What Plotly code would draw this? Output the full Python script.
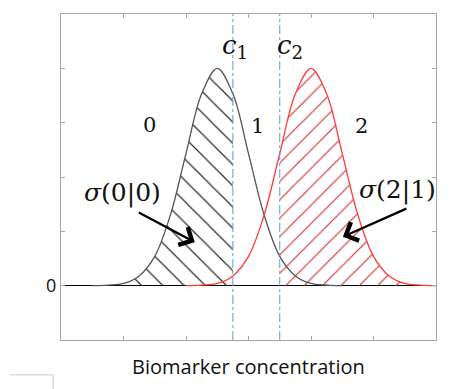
import plotly.graph_objects as go

# Class-0 density curve (grey), sampled along the biomarker axis
x_class0 = [0.5, 0.75, 1.0, 1.25, 1.5, 1.75, 2.0, 2.25, 2.5, 2.75, 3.0, 3.25, 3.5, 3.75, 4.0, 4.25, 4.5]
y_class0 = [0.0, 0.01, 0.04, 0.18, 0.54, 1.30, 2.43, 3.53, 4.0, 3.53, 2.43, 1.30, 0.54, 0.18, 0.04, 0.01, 0.0]

# Class-2 density curve (red)
x_class2 = [2.0, 2.25, 2.5, 2.75, 3.0, 3.25, 3.5, 3.75, 4.0, 4.25, 4.5, 4.75, 5.0, 5.25, 5.5, 5.75, 6.0]
y_class2 = [0.0, 0.01, 0.04, 0.18, 0.54, 1.30, 2.43, 3.53, 4.0, 3.53, 2.43, 1.30, 0.54, 0.18, 0.04, 0.01, 0.0]

# Decision thresholds
c1 = 2.75
c2 = 3.5

region_labels = ["0", "1", "2"]
region_x = [1.42, 3.14, 4.80]
region_y = [2.95, 2.94, 2.94]

x_tickvals = [1, 2, 3, 4, 5]
y_tickvals = [0, 1, 2, 3, 4]
y_ticktext = ["0", "", "", "", ""]

GREY = "#555555"
RED = "#ff3b3b"
BLUE = "#5b9bd5"
FRAME = "#a6a6a6"

fig = go.Figure()

# Hatched area under class-0 curve left of c1
fx0 = [x for x in x_class0 if x <= c1]
fy0 = [y for x, y in zip(x_class0, y_class0) if x <= c1]
fig.add_trace(go.Scatter(
    x=fx0, y=fy0, mode="lines", line=dict(width=0, shape="spline"),
    fill="tozeroy", fillcolor="rgba(0,0,0,0)",
    fillpattern=dict(shape="\\", fgcolor="#2a2a2a", fgopacity=1,
                     bgcolor="rgba(0,0,0,0)", size=15, solidity=0.08,
                     fillmode="overlay"),
    hoverinfo="skip", showlegend=False))

# Hatched area under class-2 curve right of c2
fx2 = [x for x in x_class2 if x >= c2]
fy2 = [y for x, y in zip(x_class2, y_class2) if x >= c2]
fig.add_trace(go.Scatter(
    x=fx2, y=fy2, mode="lines", line=dict(width=0, shape="spline"),
    fill="tozeroy", fillcolor="rgba(0,0,0,0)",
    fillpattern=dict(shape="/", fgcolor="#d43030", fgopacity=1,
                     bgcolor="rgba(0,0,0,0)", size=13, solidity=0.09,
                     fillmode="overlay"),
    hoverinfo="skip", showlegend=False))

fig.add_trace(go.Scatter(x=x_class0, y=y_class0, mode="lines",
                         line=dict(color=GREY, width=1.3, shape="spline"),
                         hoverinfo="skip", showlegend=False))
fig.add_trace(go.Scatter(x=x_class2, y=y_class2, mode="lines",
                         line=dict(color=RED, width=1.3, shape="spline"),
                         hoverinfo="skip", showlegend=False))

# Threshold lines
for c in (c1, c2):
    fig.add_shape(type="line", xref="x", yref="paper", x0=c, x1=c, y0=0, y1=1,
                  line=dict(color=BLUE, width=1, dash="dashdot"))

# Region numbers
for lab, rx, ry in zip(region_labels, region_x, region_y):
    fig.add_annotation(x=rx, y=ry, text=lab, showarrow=False,
                       font=dict(family="DejaVu Serif", size=21, color="#111111"))

# Threshold names
fig.add_annotation(x=2.78, y=4.41, text="<i>c</i><sub>1</sub>", showarrow=False,
                   font=dict(family="DejaVu Serif", size=26, color="#111111"))
fig.add_annotation(x=3.66, y=4.41, text="<i>c</i><sub>2</sub>", showarrow=False,
                   font=dict(family="DejaVu Serif", size=26, color="#111111"))

# Misclassification labels with arrows
fig.add_annotation(x=0.99, y=1.71, text="<i>σ</i>(0|0)", showarrow=False,
                   font=dict(family="DejaVu Serif", size=25, color="#111111"))
fig.add_annotation(x=5.38, y=1.76, text="<i>σ</i>(2|1)", showarrow=False,
                   font=dict(family="DejaVu Serif", size=25, color="#111111"))
fig.add_annotation(x=2.14, y=0.80, ax=1.22, ay=1.36, axref="x", ayref="y",
                   text="", showarrow=True, arrowhead=4, arrowsize=1.7,
                   arrowwidth=2.3, arrowcolor="#000000")
fig.add_annotation(x=4.51, y=0.90, ax=5.55, ay=1.43, axref="x", ayref="y",
                   text="", showarrow=True, arrowhead=4, arrowsize=1.7,
                   arrowwidth=2.3, arrowcolor="#000000")

# Axis title
fig.add_annotation(xref="paper", yref="paper", x=0.5, y=-0.08, yanchor="middle",
                   text="Biomarker concentration", showarrow=False,
                   font=dict(family="Open Sans", size=20, color="#111111"))

fig.update_xaxes(range=[0, 6], tickvals=x_tickvals, ticktext=[""] * 5,
                 ticks="inside", ticklen=4, tickcolor=FRAME, showgrid=False,
                 zeroline=False, showline=True, linecolor=FRAME, linewidth=1.3,
                 mirror="ticks")
fig.update_yaxes(range=[-1, 5], tickvals=y_tickvals, ticktext=y_ticktext,
                 ticks="inside", ticklen=4, tickcolor=FRAME, showgrid=False,
                 zeroline=True, zerolinecolor="#000000", zerolinewidth=1,
                 showline=True, linecolor=FRAME, linewidth=1.3, mirror="ticks",
                 tickfont=dict(family="Open Sans", size=18, color="#111111"))

fig.update_layout(width=451, height=389, margin=dict(l=61, r=15, t=14, b=49),
                  plot_bgcolor="white", paper_bgcolor="white")

# Small grey corner mark at the lower left
fig.add_shape(type="path", xref="paper", yref="paper",
              path="M -0.136 -0.107 L -0.021 -0.107 L -0.021 -0.15",
              line=dict(color="#c8c8c8", width=1))

fig.write_html("out.html")
